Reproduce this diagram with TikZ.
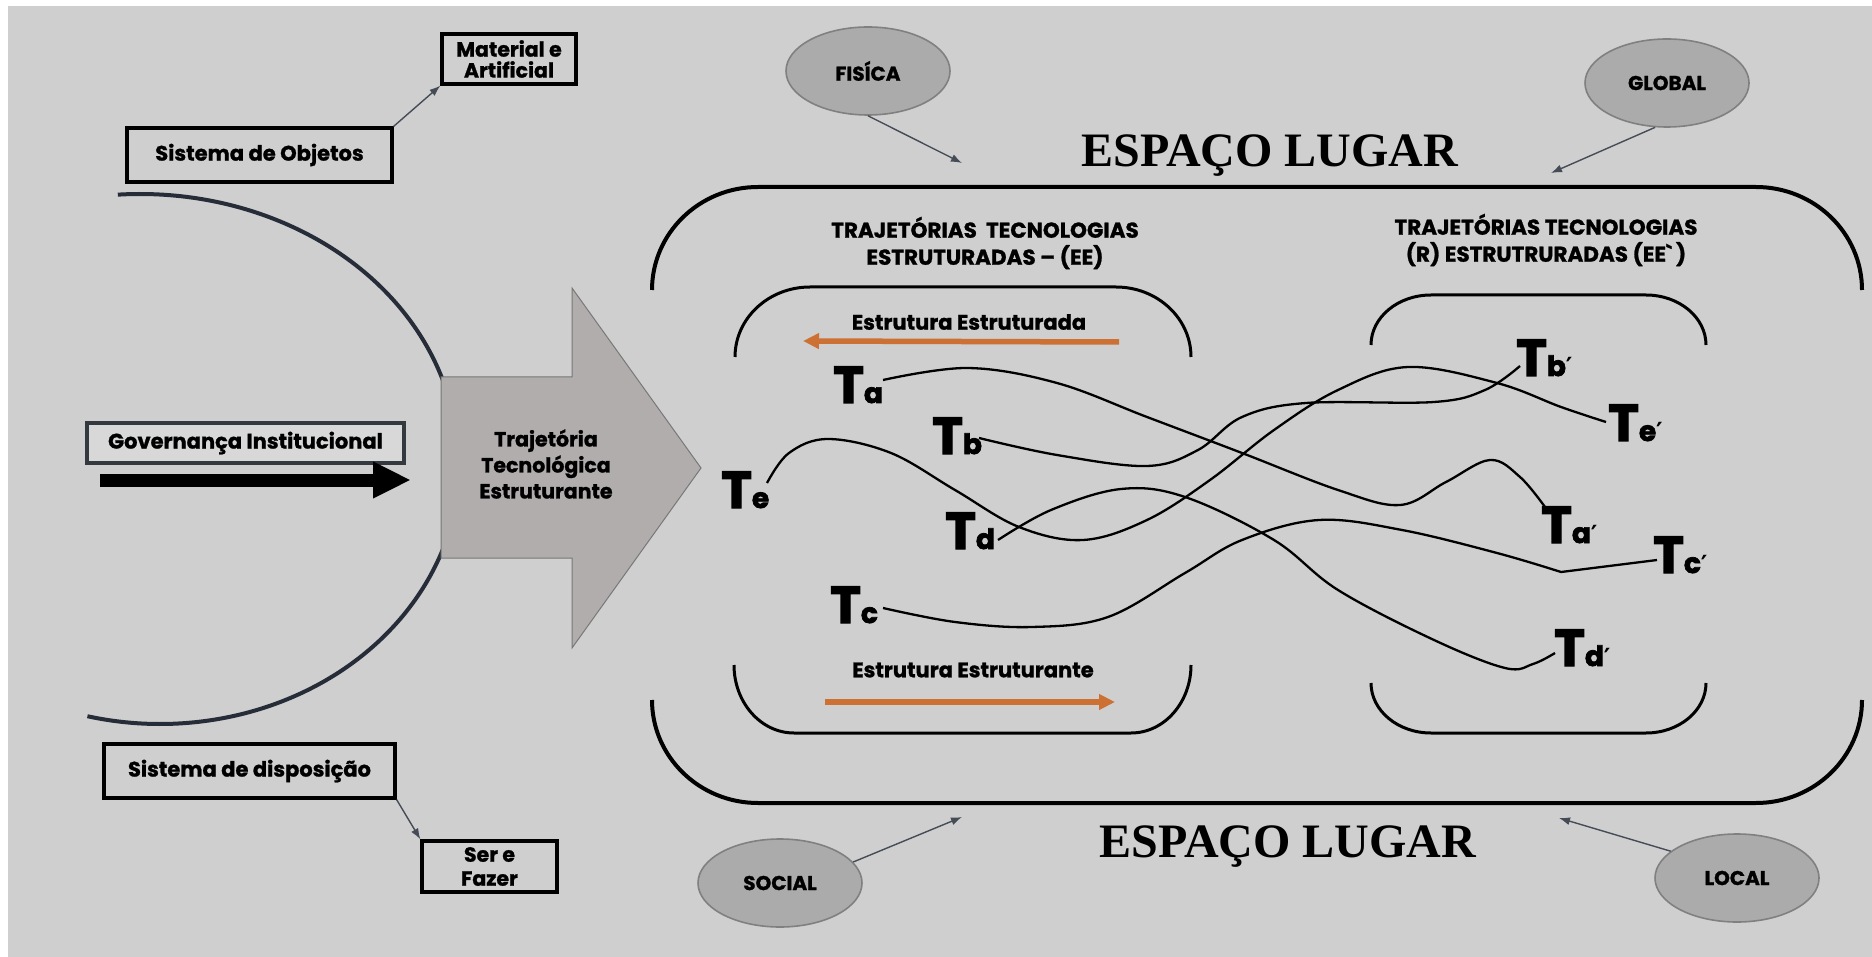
\documentclass[tikz,border=0pt]{standalone}
\usepackage{fontspec}
\setmainfont{Poppins}[BoldFeatures={FakeBold=1.2}]
\newfontfamily\heavyfont{Poppins}[BoldFeatures={FakeBold=2.5}]
\newfontfamily\headfont{Liberation Serif}
\newfontfamily\symfont{DejaVu Sans}
\usetikzlibrary{shapes.geometric,arrows.meta}

\definecolor{canvas}{RGB}{207,207,207}
\definecolor{bubble}{RGB}{171,171,171}
\definecolor{bubbleedge}{RGB}{128,128,128}
\definecolor{shaftgray}{RGB}{177,173,172}
\definecolor{shaftedge}{RGB}{120,120,120}
\definecolor{govfill}{RGB}{216,216,216}
\definecolor{govedge}{RGB}{52,57,63}
\definecolor{arcink}{RGB}{38,45,56}
\definecolor{pointer}{RGB}{70,76,86}
\definecolor{flow}{RGB}{205,112,52}

% subscript of a trajectory label, optionally primed
\newcommand{\sub}[1]{{\fontsize{28}{28}\selectfont #1}}
\newcommand{\pr}{{\symfont\bfseries\fontsize{25}{25}\selectfont ′}}

\tikzset{
  framebox/.style={draw=black, line width=3.2, fill=canvas, inner sep=0, align=center,
    font=\bfseries\fontsize{21}{23}\selectfont},
  govbox/.style={framebox, draw=govedge, fill=govfill},
  bubblenode/.style={ellipse, draw=bubbleedge, line width=1.6, fill=bubble, inner sep=0,
    minimum width=164, minimum height=88, font=\bfseries\fontsize{20}{20}\selectfont},
  pointerline/.style={draw=pointer, line width=1.4, -{Latex[length=11,width=8]}},
  bracketline/.style={line width=4},
  innerbracket/.style={line width=3},
  trajline/.style={line width=2.3, line join=round},
  tlab/.style={inner sep=0, anchor=base west, font=\heavyfont\bfseries\fontsize{52}{52}\selectfont},
  flowarrow/.style={draw=flow, line width=5.5, -{Triangle[length=16,width=15]}},
  caption/.style={font=\bfseries\fontsize{21.5}{27}\selectfont, align=center, inner sep=0},
  flowtext/.style={font=\bfseries\fontsize{21}{21}\selectfont, inner sep=0},
  place/.style={font=\headfont\bfseries\fontsize{48}{48}\selectfont, inner sep=0, anchor=base},
}

\begin{document}
\begin{tikzpicture}[x=1pt,y=1pt,yscale=-1]
\useasboundingbox (0,0) rectangle (1872,957);
\fill[white] (0,0) rectangle (1872,957);
\fill[canvas] (8,6) rectangle (1872,957);

% ---------- left column ----------
% half-open frame behind the block arrow
\draw[arcink, line width=4] (140,462) ++({318*cos(-94)},{268*sin(-94)})
  arc[start angle=-94, end angle=0, x radius=318, y radius=268];
\draw[arcink, line width=4] (160,462) ++(300,0)
  arc[start angle=0, end angle=104, x radius=300, y radius=262];

% structuring trajectory block arrow
\filldraw[fill=shaftgray, draw=shaftedge, line width=1]
  (441,377) -- (572,377) -- (572,288) -- (701,468) -- (572,648) -- (572,558) -- (441,558) -- cycle;
\node[caption, font=\bfseries\fontsize{20.5}{26}\selectfont] (trajtxt) at (546,464)
  {Trajetória\\Tecnológica\\Estruturante};

\node[framebox, font=\bfseries\fontsize{20.5}{21}\selectfont, minimum width=134, minimum height=50]
  (mat) at (509,59) {Material e\\Artificial};
\node[framebox, minimum width=265, minimum height=54] (sobj) at (259.5,155) {Sistema de Objetos};
\draw[pointerline] (sobj.north east) -- (mat.south west);

\node[govbox, minimum width=317, minimum height=40] (gov) at (245.5,443) {Governança Institucional};
\coordinate (govA) at (100,480);
\coordinate (govB) at (411,480);
\draw[line width=13, -{Triangle[length=38,width=34]}] (govA) -- (govB);

\node[framebox, minimum width=291, minimum height=54] (sdisp) at (249.5,771) {Sistema de disposição};
\node[framebox, font=\bfseries\fontsize{20.5}{24}\selectfont, minimum width=135, minimum height=51]
  (serf) at (489.5,866.5) {Ser e\\Fazer};
\draw[pointerline] (sdisp.south east) -- (serf.north west);

% ---------- place frame ----------
\node[place] (topname) at (1270,167) {ESPAÇO LUGAR};
\node[place] (botname) at (1288,857) {ESPAÇO LUGAR};

\draw[bracketline] (652,290) arc[start angle=180, end angle=270, x radius=106, y radius=103]
  -- (1756,187) arc[start angle=270, end angle=360, x radius=106, y radius=103];
\draw[bracketline] (652,700) arc[start angle=180, end angle=90, x radius=106, y radius=103]
  -- (1756,803) arc[start angle=90, end angle=0, x radius=106, y radius=103];

\draw[innerbracket] (735,357) arc[start angle=180, end angle=270, x radius=75, y radius=70]
  -- (1116,287) arc[start angle=270, end angle=360, x radius=75, y radius=70];
\draw[innerbracket] (734,665) arc[start angle=180, end angle=90, x radius=60, y radius=68]
  -- (1131,733) arc[start angle=90, end angle=0, x radius=60, y radius=68];
\draw[innerbracket] (1371,345) arc[start angle=180, end angle=270, x radius=60, y radius=50]
  -- (1646,295) arc[start angle=270, end angle=360, x radius=60, y radius=50];
\draw[innerbracket] (1371,683) arc[start angle=180, end angle=90, x radius=60, y radius=50]
  -- (1646,733) arc[start angle=90, end angle=0, x radius=60, y radius=50];

\node[caption] (leftcap) at (985,243) {TRAJETÓRIAS\ \ TECNOLOGIAS\\ESTRUTURADAS – (EE)};
\node[caption] (rightcap) at (1546,240) {TRAJETÓRIAS TECNOLOGIAS\\(R) ESTRUTRURADAS (EE\textasciigrave\,)};

\node[flowtext] (topflow) at (969,322) {Estrutura Estruturada};
\coordinate (fa0) at (1119,342);
\coordinate (fa1) at (803,341);
\draw[flowarrow] (fa0) -- (fa1);
\node[flowtext] (botflow) at (973,670) {Estrutura Estruturante};
\coordinate (fb0) at (825,702);
\coordinate (fb1) at (1115,702);
\draw[flowarrow] (fb0) -- (fb1);

% ---------- place qualifiers ----------
\node[bubblenode] (fis) at (868,71) {FISÍCA};
\node[bubblenode] (glob) at (1667,83) {GLOBAL};
\node[bubblenode] (soc) at (780,883) {SOCIAL};
\node[bubblenode] (loc) at (1737,878) {LOCAL};
\coordinate (fisT) at (962,163);
\coordinate (globT) at (1551,173);
\coordinate (socT) at (962,817);
\coordinate (locT) at (1559,818);
\draw[pointerline] (fis.south) -- (fisT);
\draw[pointerline] (glob.255) -- (globT);
\draw[pointerline] (soc.16) -- (socT);
\draw[pointerline] (loc.158) -- (locT);

% ---------- trajectories ----------
\node[tlab] (Ta) at (833,403) {T\sub{a}};
\node[tlab] (Tb) at (932,454) {T\sub{b}};
\node[tlab] (Te) at (721,508) {T\sub{e}};
\node[tlab] (Td) at (945,549) {T\sub{d}};
\node[tlab] (Tc) at (830,623) {T\sub{c}};
\node[tlab] (Tbp) at (1516,376) {T\sub{b}\pr};
\node[tlab] (Tep) at (1608,441) {T\sub{e}\pr};
\node[tlab] (Tap) at (1541,543) {T\sub{a}\pr};
\node[tlab] (Tcp) at (1653,573) {T\sub{c}\pr};
\node[tlab] (Tdp) at (1554,666) {T\sub{d}\pr};

\coordinate (a0) at (883,380);  \coordinate (a1) at (1545,507);
\coordinate (b0) at (979,438);  \coordinate (b1) at (1520,366);
\coordinate (e0) at (767,483);  \coordinate (e1) at (1606,422);
\coordinate (d0) at (998,540);  \coordinate (d1) at (1555,653);
\coordinate (c0) at (883,608);  \coordinate (c1) at (1657,560);
\coordinate (ck) at (1561,572);

\draw[trajline] plot[smooth, tension=0.6] coordinates {(a0) (968,368) (1057,383) (1147,417)
  (1242,453) (1338,490) (1400,505) (1446,482) (1490,460) (1520,477) (a1)};
\draw[trajline] plot[smooth, tension=0.6] coordinates {(b0) (1057,455) (1147,466) (1198,450)
  (1242,417) (1306,403) (1434,402) (1485,390) (b1)};
\draw[trajline] plot[smooth, tension=0.6] coordinates {(e0) (789,453) (828,439) (891,453)
  (955,490) (1019,527) (1083,540) (1147,520) (1210,480) (1274,430) (1338,390) (1408,367)
  (1497,383) (1561,407) (e1)};
\draw[trajline] plot[smooth, tension=0.6] coordinates {(d0) (1051,510) (1121,489) (1185,497)
  (1274,540) (1338,590) (1434,640) (1505,668) (1533,664) (d1)};
\draw[trajline] plot[smooth, tension=0.6] coordinates {(c0) (955,622) (1032,627) (1108,617)
  (1185,573) (1242,540) (1319,520) (1402,530) (1497,553) (ck)} -- (c1);
\end{tikzpicture}
\end{document}
